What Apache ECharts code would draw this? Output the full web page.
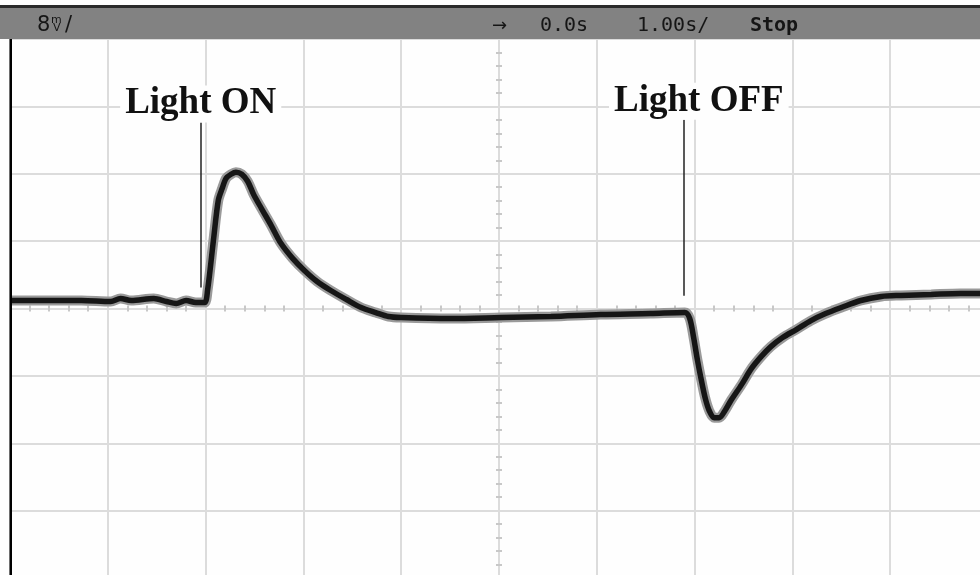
<!DOCTYPE html>
<html>
<head>
<meta charset="utf-8">
<script src="https://cdn.jsdelivr.net/npm/echarts@6/dist/echarts.min.js"></script>
<style>html,body{margin:0;padding:0;background:#fff;overflow:hidden;width:980px;height:575px}#c{width:988px;height:578px}</style>
</head>
<body>
<div id="c"></div>
<script>
// time (s) relative to trigger, 1.00 s/div
const timeS = [-4.99,-4.68,-4.27,-3.97,-3.87,-3.76,-3.53,-3.40,-3.30,-3.20,-3.10,-3.01,-2.98,-2.92,-2.87,-2.83,-2.79,-2.74,-2.69,-2.63,-2.57,-2.51,-2.43,-2.33,-2.23,-2.11,-1.99,-1.86,-1.72,-1.56,-1.41,-1.26,-1.13,-1.00,-0.49,0.02,0.53,1.04,1.55,1.90,1.95,1.99,2.03,2.07,2.11,2.15,2.20,2.25,2.31,2.37,2.48,2.58,2.68,2.78,2.90,3.04,3.19,3.34,3.50,3.70,3.91,4.11,4.42,4.72,4.93];
// signal (mV), 8 mV/div
const voltageMV = [0.95,0.95,0.95,0.83,1.19,0.95,1.19,0.83,0.60,0.95,0.71,0.71,2.14,8.09,12.85,14.28,15.47,15.94,16.18,15.94,15.11,13.57,11.90,9.88,7.74,5.95,4.52,3.21,2.14,1.07,0.12,-0.48,-0.95,-1.07,-1.19,-1.07,-0.95,-0.71,-0.60,-0.48,-1.19,-3.45,-6.19,-8.57,-10.70,-12.14,-12.97,-12.97,-12.14,-10.95,-9.04,-7.14,-5.71,-4.52,-3.45,-2.50,-1.43,-0.60,0.12,0.95,1.43,1.55,1.67,1.78,1.78];
// annotations
const eventLabels = ['Light ON', 'Light OFF'];
const eventTimes = [-3.05, 1.89];
const eventLow = [2.5, 1.5];
const eventHigh = [22.1, 22.4];
// header texts
const headerScale = '8';
const headerUnitTop = 'm';
const headerUnitBottom = 'V';
const headerTexts = ['→', '0.0s', '1.00s/'];
const headerStatus = 'Stop';

const points = timeS.map((t, i) => [t, voltageMV[i]]);
const chart = echarts.init(document.getElementById('c'));
const gridCol = '#dcdcdc';

const xCommon = {
  type: 'value', min: -5, max: 5, interval: 1,
  axisLine: { onZero: true, lineStyle: { color: gridCol, width: 2 } },
  axisTick: { show: false },
  minorTick: { show: true, splitNumber: 5, length: 3, lineStyle: { color: '#c8c8c8', width: 2 } },
  axisLabel: { show: false },
  splitLine: { show: false },
  minorSplitLine: { show: false }
};
const yCommon = {
  type: 'value', min: -32, max: 32, interval: 8,
  axisLine: { onZero: true, lineStyle: { color: gridCol, width: 2 } },
  axisTick: { show: false },
  minorTick: { show: true, splitNumber: 5, length: 3, lineStyle: { color: '#c8c8c8', width: 2 } },
  axisLabel: { show: false },
  splitLine: { show: false },
  minorSplitLine: { show: false }
};

const labelFont = { fontFamily: 'Liberation Serif', fontWeight: 'bold', fontSize: 37, color: '#111' };
const markData = eventTimes.map((t, i) => [
  { coord: [t, eventLow[i]] },
  {
    coord: [t, eventHigh[i]],
    name: eventLabels[i],
    label: {
      show: true, position: 'end', distance: 0,
      formatter: i === 0 ? '{t|{b}}' : '{g|}{t|{b}}',
      rich: {
        t: Object.assign({ backgroundColor: '#fefefe', padding: [0, 5, 0, 5] }, labelFont),
        g: { width: 30, height: 10 }
      }
    }
  }
]);

chart.setOption({
  backgroundColor: '#fefefe',
  animation: false,
  grid: { left: 10, right: 0, top: 39, bottom: 0 },
  xAxis: [
    Object.assign({}, xCommon, { position: 'bottom',
      splitLine: { show: true, lineStyle: { color: gridCol, width: 2 } } }),
    Object.assign({}, xCommon, { position: 'top' })
  ],
  yAxis: [
    Object.assign({}, yCommon, { position: 'left',
      splitLine: { show: true, lineStyle: { color: gridCol, width: 2 } } }),
    Object.assign({}, yCommon, { position: 'right' })
  ],
  series: [
    {
      type: 'line', data: points, symbol: 'none', smooth: 0.3,
      lineStyle: { color: '#9a9a9a', width: 10 }, z: 3, silent: true
    },
    {
      type: 'line', data: points, symbol: 'none', smooth: 0.3,
      lineStyle: { color: '#161616', width: 5.5 }, z: 4, silent: true,
      markLine: {
        symbol: ['none', 'none'], silent: true,
        lineStyle: { color: '#222', width: 1.5, type: 'solid' },
        data: markData
      }
    }
  ],
  graphic: [
    { type: 'rect', shape: { x: 0, y: 5, width: 990, height: 3 }, style: { fill: '#2a2a2a' }, z: 100 },
    { type: 'rect', shape: { x: 0, y: 8, width: 990, height: 31 }, style: { fill: '#828282' }, z: 100 },
    { type: 'rect', shape: { x: 9.5, y: 39, width: 2.5, height: 540 }, style: { fill: '#000' }, z: 100 },
    { type: 'text', x: 37, y: 25.5, style: { text: headerScale, font: '21px "DejaVu Sans"', fill: '#151515', verticalAlign: 'middle' }, z: 101 },
    { type: 'text', x: 51, y: 20, style: { text: headerUnitTop, font: '11px "DejaVu Sans"', fill: '#151515', verticalAlign: 'middle' }, z: 101 },
    { type: 'text', x: 53, y: 28.5, style: { text: headerUnitBottom, font: '11px "DejaVu Sans"', fill: '#151515', verticalAlign: 'middle' }, z: 101 },
    { type: 'text', x: 65, y: 25.5, style: { text: '/', font: '21px "DejaVu Sans"', fill: '#151515', verticalAlign: 'middle' }, z: 101 },
    { type: 'text', x: 492, y: 26, style: { text: headerTexts[0], font: '18px "DejaVu Sans"', fill: '#151515', verticalAlign: 'middle' }, z: 101 },
    { type: 'text', x: 540, y: 25.5, style: { text: headerTexts[1], font: '20px "DejaVu Sans Mono"', fill: '#151515', verticalAlign: 'middle' }, z: 101 },
    { type: 'text', x: 637, y: 25.5, style: { text: headerTexts[2], font: '20px "DejaVu Sans Mono"', fill: '#151515', verticalAlign: 'middle' }, z: 101 },
    { type: 'text', x: 750, y: 25.5, style: { text: headerStatus, font: 'bold 20px "DejaVu Sans Mono"', fill: '#151515', verticalAlign: 'middle' }, z: 101 }
  ]
});
</script>
</body>
</html>
